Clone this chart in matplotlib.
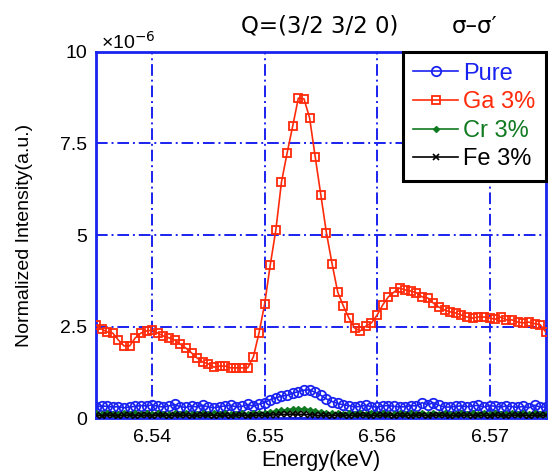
import numpy as np
import matplotlib
matplotlib.use("Agg")
import matplotlib.pyplot as plt

plt.rcParams['font.family'] = ['Liberation Sans', 'DejaVu Sans']

energy = np.round(6.535 + 0.0005 * np.arange(81), 4)

ga = [2.54, 2.43, 2.35, 2.32, 2.13, 1.97, 1.97, 2.19, 2.32, 2.38,
      2.40, 2.32, 2.24, 2.19, 2.13, 2.02, 1.91, 1.78, 1.64, 1.53,
      1.48, 1.39, 1.42, 1.42, 1.37, 1.37, 1.37, 1.37, 1.67, 2.32,
      3.11, 4.18, 5.14, 6.45, 7.24, 7.98, 8.74, 8.72, 8.20, 7.13,
      6.09, 5.05, 4.21, 3.44, 3.06, 2.73, 2.46, 2.38, 2.51, 2.60,
      2.81, 3.09, 3.31, 3.44, 3.55, 3.50, 3.47, 3.42, 3.31, 3.28,
      3.14, 3.03, 2.95, 2.90, 2.87, 2.81, 2.76, 2.73, 2.76, 2.76,
      2.73, 2.70, 2.76, 2.68, 2.68, 2.62, 2.60, 2.62, 2.58, 2.55,
      2.35]

pure = [0.30, 0.33, 0.32, 0.30, 0.31, 0.28, 0.30, 0.32, 0.34, 0.33,
        0.36, 0.32, 0.30, 0.33, 0.37, 0.31, 0.29, 0.33, 0.30, 0.35,
        0.30, 0.28, 0.31, 0.33, 0.35, 0.30, 0.32, 0.37, 0.32, 0.38,
        0.42, 0.50, 0.55, 0.60, 0.62, 0.68, 0.72, 0.76, 0.77, 0.70,
        0.62, 0.52, 0.45, 0.40, 0.36, 0.34, 0.30, 0.32, 0.35, 0.31,
        0.30, 0.33, 0.34, 0.32, 0.30, 0.31, 0.34, 0.33, 0.42, 0.36,
        0.42, 0.35, 0.30, 0.30, 0.32, 0.33, 0.31, 0.33, 0.35, 0.30,
        0.34, 0.32, 0.30, 0.33, 0.31, 0.29, 0.32, 0.28, 0.35, 0.30,
        0.30]

cr = [0.13, 0.12, 0.13, 0.12, 0.11, 0.13, 0.12, 0.13, 0.12, 0.13,
      0.12, 0.13, 0.12, 0.11, 0.13, 0.12, 0.13, 0.12, 0.12, 0.13,
      0.12, 0.13, 0.12, 0.13, 0.12, 0.12, 0.13, 0.12, 0.13, 0.14,
      0.15, 0.17, 0.19, 0.21, 0.23, 0.25, 0.26, 0.25, 0.23, 0.20,
      0.17, 0.15, 0.14, 0.13, 0.12, 0.13, 0.12, 0.13, 0.12, 0.13,
      0.12, 0.13, 0.12, 0.12, 0.13, 0.12, 0.13, 0.12, 0.13, 0.12,
      0.13, 0.12, 0.13, 0.12, 0.12, 0.13, 0.12, 0.13, 0.12, 0.13,
      0.12, 0.13, 0.12, 0.12, 0.13, 0.12, 0.13, 0.12, 0.13, 0.12,
      0.12]

fe = [0.07, 0.06, 0.08, 0.07, 0.06, 0.07, 0.08, 0.06, 0.07, 0.07,
      0.06, 0.08, 0.07, 0.06, 0.07, 0.08, 0.07, 0.06, 0.07, 0.07,
      0.08, 0.06, 0.07, 0.07, 0.06, 0.08, 0.07, 0.06, 0.07, 0.08,
      0.07, 0.08, 0.09, 0.10, 0.10, 0.11, 0.10, 0.10, 0.09, 0.08,
      0.07, 0.07, 0.06, 0.08, 0.07, 0.06, 0.07, 0.08, 0.07, 0.06,
      0.07, 0.07, 0.08, 0.06, 0.07, 0.07, 0.06, 0.08, 0.07, 0.06,
      0.07, 0.08, 0.07, 0.06, 0.07, 0.07, 0.08, 0.06, 0.07, 0.07,
      0.06, 0.08, 0.07, 0.06, 0.07, 0.08, 0.07, 0.06, 0.07, 0.07,
      0.07]

xticks = [6.54, 6.55, 6.56, 6.57]
yticks = [0, 2.5, 5, 7.5, 10]
ytick_labels = ["0", "2.5", "5", "7.5", "10"]

blue = '#1a22f0'
red = '#ff2a0a'
green = '#107a20'

fig = plt.figure(figsize=(5.48, 4.76), dpi=100)
ax = fig.add_axes([0.175, 0.1218, 0.821, 0.769])

ax.plot(energy, pure, color=blue, marker='o', ms=6.8, mfc='none', mew=1.3, lw=1.2, label='Pure', zorder=3)
ax.plot(energy, ga, color=red, marker='s', ms=6, mfc='none', mew=1.3, lw=1.2, label='Ga 3%', zorder=4)
ax.plot(energy, cr, color=green, marker='D', ms=3, mfc=green, mew=1, lw=1.2, label='Cr 3%', zorder=3)
ax.plot(energy, fe, color='black', marker='x', ms=5, mew=1.2, lw=1.2, label='Fe 3%', zorder=3)

ax.set_xlim(6.535, 6.575)
ax.set_ylim(0, 10)
ax.set_xticks(xticks)
ax.set_xticklabels([f"{t:.2f}" for t in xticks])
ax.set_yticks(yticks)
ax.set_yticklabels(ytick_labels)
ax.tick_params(length=0, labelsize=14)
ax.tick_params(axis='x', pad=8)
ax.tick_params(axis='y', pad=6)

ax.grid(True, color=blue, linestyle=(0, (6, 2, 1, 2)), linewidth=1.4)
ax.set_axisbelow(True)
for s in ax.spines.values():
    s.set_color(blue)
    s.set_linewidth(2)

ax.set_xlabel('Energy(keV)', fontsize=15.5, labelpad=3)
ax.set_ylabel('Normalized Intensity(a.u.)', fontsize=14, labelpad=20)

fig.text(0.584, 0.945, 'Q=(3/2 3/2 0)', fontsize=16.5, ha='center', va='center',
         family=['DejaVu Sans'])
fig.text(0.867, 0.945, 'σ–σ\u2032', fontsize=16.5, ha='center', va='center',
         family=['DejaVu Sans'])
fig.text(0.184, 0.912, '×10$^{-6}$', fontsize=14, ha='left', va='center')

leg = ax.legend(loc='upper right', fontsize=17, frameon=True, fancybox=False,
                borderaxespad=0, handlelength=1.9, handletextpad=0.2,
                labelspacing=0.28, borderpad=0.45)
leg.get_frame().set_edgecolor('black')
leg.get_frame().set_linewidth(2.2)
leg.get_frame().set_alpha(1)
for txt, c in zip(leg.get_texts(), [blue, red, green, 'black']):
    txt.set_color(c)

fig.savefig('out.png', dpi=100)
